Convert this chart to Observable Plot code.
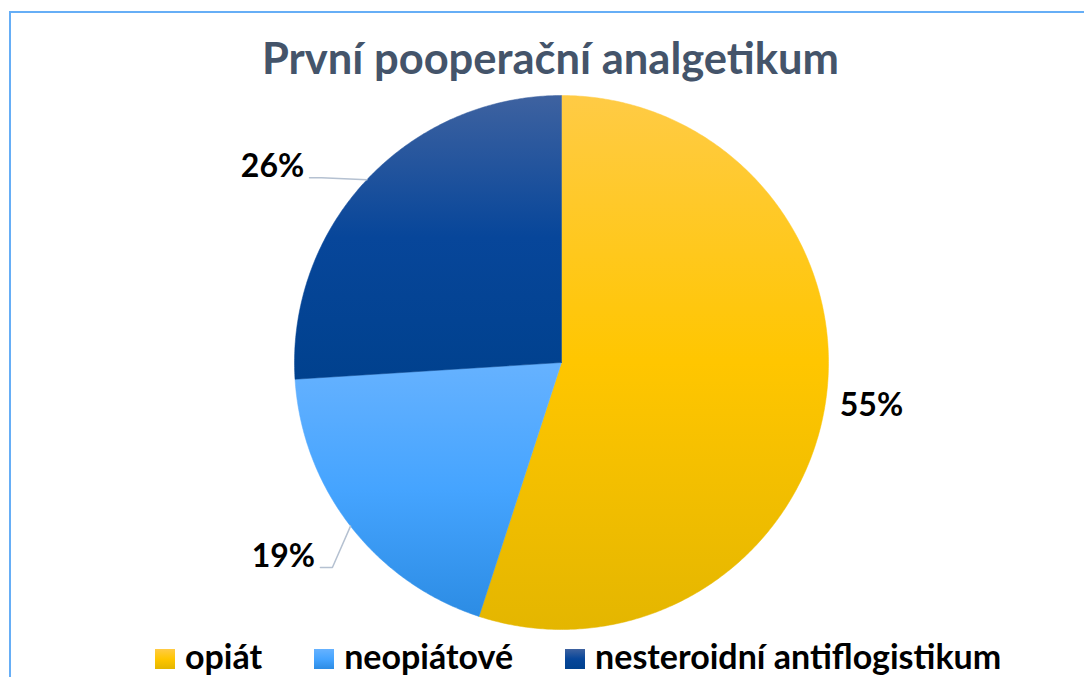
<!DOCTYPE html>
<html>
<head>
<meta charset="utf-8">
<script src="https://cdn.jsdelivr.net/npm/d3@7"></script>
<script src="https://cdn.jsdelivr.net/npm/@observablehq/plot@0.6"></script>
<style>
  html, body { margin: 0; padding: 0; background: #fff; overflow: hidden; }
  #wrap { position: relative; width: 1084px; height: 677px; overflow: hidden; font-family: Lato, "Open Sans", sans-serif; }
  #frame { position: absolute; left: 9px; top: 11px; width: 1200px; height: 800px; border: 2px solid #66AEF6; box-sizing: border-box; }
  #title { position: absolute; left: 0; top: 36px; width: 1101px; text-align: center; font-size: 43.5px; line-height: 1; font-weight: 700; color: #44546A; white-space: nowrap; }
  #chart { position: absolute; left: 0; top: 90px; }
  #legend { position: absolute; left: 155px; top: 639px; display: flex; font-size: 34px; line-height: 1; font-weight: 700; color: #000; white-space: nowrap; }
  .item { margin-right: 52px; }
  .sw { display: inline-block; width: 20px; height: 20px; margin-right: 10px; vertical-align: baseline; }
</style>
</head>
<body>
<div id="wrap">
  <div id="frame"></div>
  <div id="title">První pooperační analgetikum</div>
  <div id="chart"></div>
  <div id="legend"></div>
</div>
<script>
// ---- data ----
const categories = ["opiát", "neopiátové", "nesteroidní antiflogistikum"];
const values = [55, 19, 26];
const percentLabels = ["55%", "19%", "26%"];

// ---- styles ----
const gradients = [
  ["#FFCB45", "#FFC600", "#E4B600"],
  ["#66B2FF", "#45A4FF", "#2C8CE4"],
  ["#3E62A0", "#07469A", "#00418E"]
];
const labelNudgeDeg = [-1.1, 2.9, -9.1];  // label angle offset from slice mid-angle
const labelRadius = [1.172, 1.27, 1.307]; // in pie radii
const hasLeader = [false, true, true];

const R = 267; // pie radius in px
const W = 1084, H = 560;
const cx = 561, cy = 272; // pie centre inside the svg

const total = d3.sum(values);
let acc = 0;
const slices = values.map((v, i) => {
  const a0 = acc / total * 2 * Math.PI;
  acc += v;
  const a1 = acc / total * 2 * Math.PI;
  return {i, cat: categories[i], a0, a1, mid: (a0 + a1) / 2};
});

// polygon outline of each slice (centre + arc)
function slicePoints(s) {
  const n = Math.max(8, Math.ceil((s.a1 - s.a0) * 180 / Math.PI * 2));
  const pts = [{x: 0, y: 0}];
  for (let k = 0; k <= n; k++) {
    const t = s.a0 + (s.a1 - s.a0) * k / n;
    pts.push({x: Math.sin(t), y: Math.cos(t)});
  }
  pts.push({x: 0, y: 0});
  return pts;
}

const px = 1 / R; // one pixel in data units
const labelData = slices.map((s, i) => {
  const t = s.mid + labelNudgeDeg[i] * Math.PI / 180;
  return {text: percentLabels[i], x: labelRadius[i] * Math.sin(t), y: labelRadius[i] * Math.cos(t), i};
});

const leaders = [];
slices.forEach((s, i) => {
  if (!hasLeader[i]) return;
  const L = labelData[i];
  const ax = L.x + 37 * px, ay = L.y - 11 * px;
  leaders.push({g: i, x: ax, y: ay});
  leaders.push({g: i, x: ax + 12 * px, y: ay});
  leaders.push({g: i, x: Math.sin(s.mid), y: Math.cos(s.mid)});
});

const marks = slices.map((s, i) =>
  Plot.line(slicePoints(s), {x: "x", y: "y", fill: `url(#grad${i})`, stroke: `url(#grad${i})`, strokeWidth: 0.5, curve: "linear"})
);
marks.push(Plot.line(leaders, {x: "x", y: "y", z: "g", stroke: "#B5C1D1", strokeWidth: 1.5}));
marks.push(Plot.text(labelData, {x: "x", y: "y", text: "text", fontSize: 32, fontWeight: 700, fontFamily: "Lato, 'Open Sans', sans-serif", fill: "#000"}));

const chart = Plot.plot({
  width: W,
  height: H,
  margin: 0,
  x: {domain: [-cx / R, (W - cx) / R], axis: null},
  y: {domain: [-(H - cy) / R, cy / R], axis: null},
  style: {background: "transparent", overflow: "visible"},
  marks
});

// gradient definitions
const svg = d3.select(chart);
const defs = svg.insert("defs", ":first-child");
gradients.forEach((g, i) => {
  const lg = defs.append("linearGradient").attr("id", `grad${i}`)
    .attr("x1", 0).attr("y1", 0).attr("x2", 0).attr("y2", 1);
  lg.append("stop").attr("offset", "0%").attr("stop-color", g[0]);
  lg.append("stop").attr("offset", "50%").attr("stop-color", g[1]);
  lg.append("stop").attr("offset", "100%").attr("stop-color", g[2]);
});
document.getElementById("chart").appendChild(chart);

// legend
const legend = d3.select("#legend");
categories.forEach((c, i) => {
  const g = gradients[i];
  const it = legend.append("div").attr("class", "item");
  it.append("span").attr("class", "sw")
    .style("background", `linear-gradient(to bottom, ${g[0]}, ${g[1]} 50%, ${g[2]})`);
  it.append("span").text(c);
});
</script>
</body>
</html>
